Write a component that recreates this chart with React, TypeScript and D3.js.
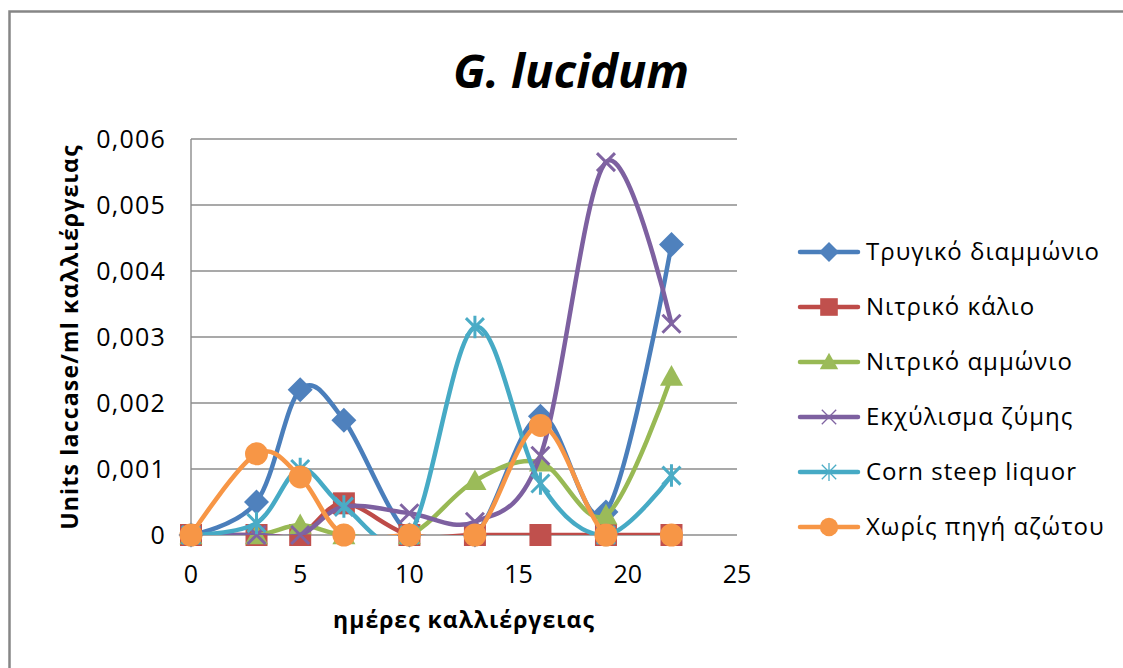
import React, { useEffect } from "react";
import * as d3 from "d3";

// Sampling days (x) and laccase activity per nitrogen source (Units/ml)
const days = [0, 3, 5, 7, 10, 13, 16, 19, 22];
const trygikoDiammonio = [0, 0.0005, 0.0022, 0.00174, 0, 0, 0.0018, 0.00035, 0.0044];
const nitrikoKalio = [0, 0, 0, 0.00048, 0, 0, 0, 0, 0];
const nitrikoAmmonio = [0, 0, 0.00015, 0, 0, 0.00082, 0.0011, 0.0003, 0.0024];
const ekxylismaZymis = [0, 0, 0, 0.00043, 0.00033, 0.0002, 0.0012, 0.00565, 0.0032];
const cornSteepLiquor = [0, 0.00018, 0.001, 0.00043, 0, 0.00315, 0.00078, 0, 0.0009];
const xorisPigi = [0, 0.00123, 0.00088, 0, 0, 0, 0.00166, 0, 0];

const seriesNames = [
  "Τρυγικό διαμμώνιο",
  "Νιτρικό κάλιο",
  "Νιτρικό αμμώνιο",
  "Εκχύλισμα ζύμης",
  "Corn steep liquor",
  "Χωρίς πηγή αζώτου",
];
const seriesValues = [
  trygikoDiammonio,
  nitrikoKalio,
  nitrikoAmmonio,
  ekxylismaZymis,
  cornSteepLiquor,
  xorisPigi,
];
const markerKinds = ["diamond", "square", "triangle", "x", "star", "circle"];
const lineColors = ["#4A7EBB", "#BE4B48", "#98B954", "#7D60A0", "#46AAC5", "#F79646"];
const markerColors = ["#4F81BD", "#C0504D", "#9BBB59", "#8064A2", "#4BACC6", "#F79646"];

const xTicks = [0, 5, 10, 15, 20, 25];
const yTicks = [0, 0.001, 0.002, 0.003, 0.004, 0.005, 0.006];
const yTickLabels = ["0", "0,001", "0,002", "0,003", "0,004", "0,005", "0,006"];

const FONT = "'Open Sans', 'Noto Sans', sans-serif";
const W = 1123;
const H = 668;

const plot = { left: 191, right: 737, top: 139, bottom: 535 };

function Marker({ kind, x, y, color, s, thin }: { kind: string; x: number; y: number; color: string; s: number; thin?: boolean }) {
  if (kind === "diamond") {
    const h = 12.5 * s;
    return <path d={`M${x},${y - h}L${x + h},${y}L${x},${y + h}L${x - h},${y}Z`} fill={color} />;
  }
  if (kind === "square") {
    const h = 11 * s;
    return <rect x={x - h} y={y - h} width={2 * h} height={2 * h} fill={color} />;
  }
  if (kind === "triangle") {
    const h = 11.5 * s;
    return <path d={`M${x},${y - h}L${x + h},${y + h * 0.8}L${x - h},${y + h * 0.8}Z`} fill={color} />;
  }
  if (kind === "circle") {
    return <circle cx={x} cy={y} r={11.5 * s} fill={color} />;
  }
  const a = 9 * s;
  const sw = thin ? 1.3 : 3;
  const arms = `M${x - a},${y - a}L${x + a},${y + a}M${x - a},${y + a}L${x + a},${y - a}`;
  const d = kind === "star" ? `${arms}M${x},${y - a * 1.25}L${x},${y + a * 1.25}` : arms;
  return <path d={d} stroke={color} strokeWidth={sw} fill="none" />;
}

export default function App() {
  useEffect(() => {
    document.body.style.margin = "0";
    document.body.style.overflow = "hidden";
  }, []);

  const x = d3.scaleLinear().domain([0, 25]).range([plot.left, plot.right]);
  const y = d3.scaleLinear().domain([0, 0.006]).range([plot.bottom, plot.top]);
  const line = d3
    .line<number>()
    .x((_, i) => x(days[i]))
    .y((v) => y(v))
    .curve(d3.curveCardinal.tension(0));

  const legendY = [252, 307, 362, 417, 472, 527];

  return (
    <svg width={W} height={H} style={{ position: "absolute", left: 0, top: 0, display: "block", background: "#fff" }}>
      <defs>
        <clipPath id="plotClip">
          <rect x={plot.left} y={plot.top} width={plot.right - plot.left} height={plot.bottom - plot.top} />
        </clipPath>
      </defs>
      <rect x={0} y={0} width={W} height={H} fill="#fff" />
      <path d={`M9.5,${H + 5}V11.5H${W + 5}`} fill="none" stroke="#868686" strokeWidth={2.5} />

      <text x={571} y={88} textAnchor="middle" fontFamily={FONT} fontWeight="bold" fontStyle="italic" fontSize={47} fill="#000">
        G. lucidum
      </text>

      {/* gridlines */}
      {yTicks.map((t) => (
        <line key={t} x1={plot.left} x2={plot.right} y1={y(t)} y2={y(t)} stroke="#8c8c8c" strokeWidth={1.4} />
      ))}
      <line x1={plot.left} x2={plot.left} y1={plot.top} y2={plot.bottom} stroke="#8c8c8c" strokeWidth={1.4} />

      {/* y tick labels */}
      {yTicks.map((t, i) => (
        <text key={t} x={166} y={y(t)} dy="0.35em" textAnchor="end" fontFamily={FONT} fontSize={25} letterSpacing={1.2} fill="#000">
          {yTickLabels[i]}
        </text>
      ))}
      {/* x tick labels */}
      {xTicks.map((t) => (
        <text key={t} x={x(t)} y={583} textAnchor="middle" fontFamily={FONT} fontSize={25} fill="#000">
          {t}
        </text>
      ))}

      <text x={464} y={628} textAnchor="middle" fontFamily={FONT} fontWeight="bold" fontSize={23} letterSpacing={1} fill="#000">
        ημέρες καλλιέργειας
      </text>
      <text
        transform="translate(78,337) rotate(-90)"
        textAnchor="middle"
        fontFamily={FONT}
        fontWeight="bold"
        fontSize={23}
        letterSpacing={1.2}
        fill="#000"
      >
        Units laccase/ml καλλιέργειας
      </text>

      {/* series: line then markers, drawn in series order */}
      {seriesValues.map((vals, si) => (
        <g key={si}>
          <path
            d={line(vals) || ""}
            fill="none"
            stroke={lineColors[si]}
            strokeWidth={4.5}
            strokeLinejoin="round"
            strokeLinecap="round"
            clipPath="url(#plotClip)"
          />
          {vals.map((v, i) => (
            <Marker key={i} kind={markerKinds[si]} x={x(days[i])} y={y(v)} color={markerColors[si]} s={1} />
          ))}
        </g>
      ))}

      {/* legend */}
      {seriesNames.map((name, si) => (
        <g key={name}>
          <line x1={800} x2={858} y1={legendY[si]} y2={legendY[si]} stroke={lineColors[si]} strokeWidth={4.5} strokeLinecap="round" />
          <Marker kind={markerKinds[si]} x={829} y={legendY[si]} color={markerColors[si]} s={0.8} thin />
          <text x={866} y={legendY[si]} dy="0.35em" fontFamily={FONT} fontSize={24} letterSpacing={1} fill="#000">
            {name}
          </text>
        </g>
      ))}
    </svg>
  );
}
